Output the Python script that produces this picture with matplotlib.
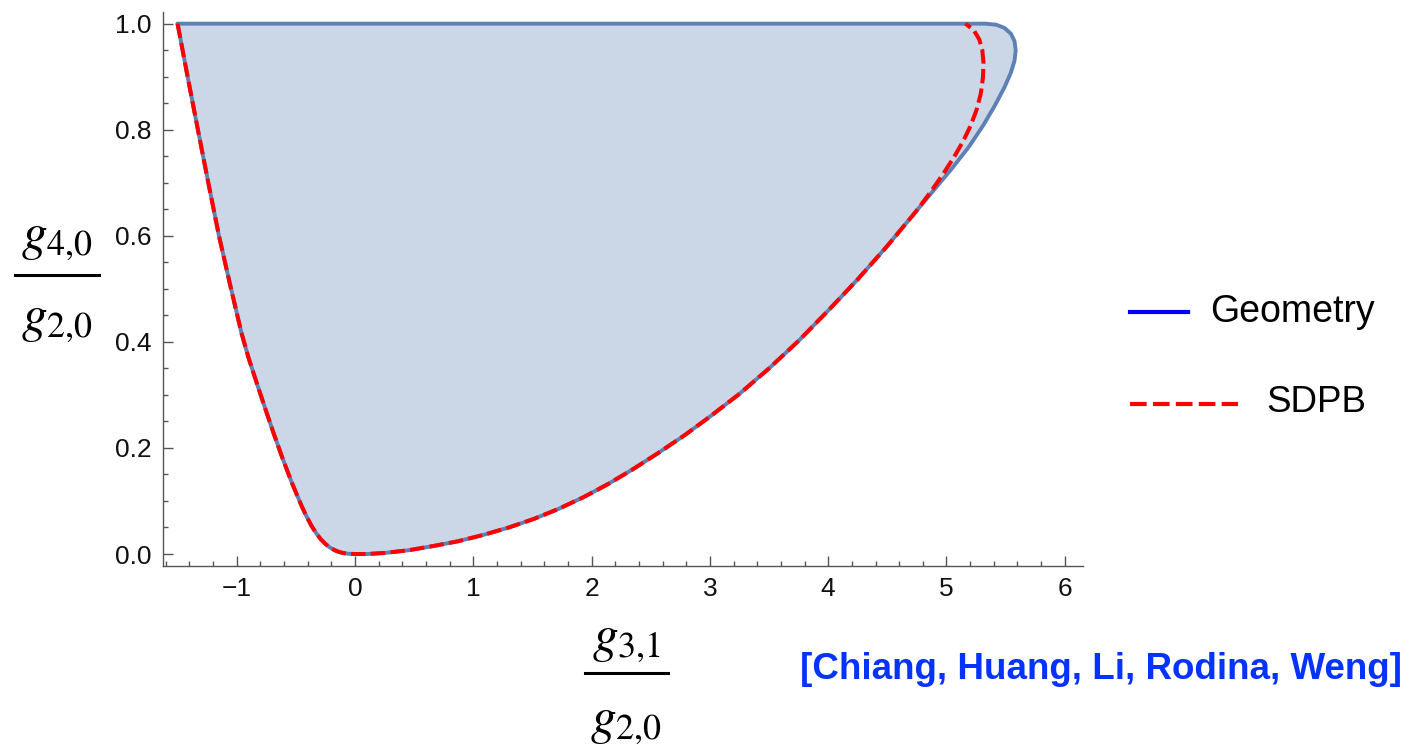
import matplotlib.pyplot as plt
from matplotlib.lines import Line2D
from matplotlib.ticker import MultipleLocator

W, H = 1411, 745

# boundary shared by both curves: from the top-left corner down to the
# bottom and up the right-hand side
lower_x = [-1.50, -1.415, -1.328, -1.24, -1.15, -1.058, -0.96, -0.90, -0.83,
           -0.76, -0.69, -0.615, -0.535, -0.45, -0.41, -0.37, -0.33, -0.29,
           -0.25, -0.21, -0.17, -0.13, -0.09, -0.05, 0.00,
           0.10, 0.25, 0.45, 0.66, 0.87, 1.085, 1.30, 1.51, 1.72, 1.93,
           2.14, 2.35, 2.56, 2.78, 3.00, 3.25, 3.50, 3.75, 4.00, 4.25, 4.50,
           4.75]
lower_y = [1.000, 0.900, 0.800, 0.700, 0.600, 0.510, 0.417, 0.370, 0.322,
           0.275, 0.229, 0.182, 0.135, 0.090, 0.071, 0.054, 0.040, 0.028,
           0.019, 0.012, 0.007, 0.0035, 0.0015, 0.0004, 0.000,
           0.000, 0.002, 0.007, 0.015, 0.024, 0.036, 0.050, 0.066, 0.085, 0.107,
           0.132, 0.160, 0.190, 0.223, 0.259, 0.302, 0.350, 0.402, 0.459, 0.518,
           0.581, 0.648]

# upper right end of the geometry region
geom_cap_x = [4.90, 5.05, 5.19, 5.31, 5.41, 5.49, 5.545, 5.575, 5.585, 5.575,
              5.545, 5.49, 5.42, 5.33]
geom_cap_y = [0.688, 0.728, 0.768, 0.808, 0.846, 0.880, 0.908, 0.930, 0.950,
              0.967, 0.981, 0.992, 0.998, 1.000]

# upper right end of the SDPB bound
sdpb_cap_x = [4.87, 4.97, 5.06, 5.14, 5.205, 5.255, 5.29, 5.308, 5.313, 5.303,
              5.278, 5.23, 5.16]
sdpb_cap_y = [0.684, 0.716, 0.747, 0.778, 0.808, 0.838, 0.868, 0.898, 0.925,
              0.950, 0.970, 0.988, 1.000]

x_ticks = [-1, 0, 1, 2, 3, 4, 5, 6]
x_tick_labels = ["\u22121", "0", "1", "2", "3", "4", "5", "6"]
y_ticks = [0.0, 0.2, 0.4, 0.6, 0.8, 1.0]
y_tick_labels = ["0.0", "0.2", "0.4", "0.6", "0.8", "1.0"]

legend_labels = ["Geometry", "SDPB"]
citation = "[Chiang, Huang, Li, Rodina, Weng]"

plt.rcParams["font.family"] = "Liberation Sans"
plt.rcParams["mathtext.fontset"] = "stix"

fig = plt.figure(figsize=(W / 100, H / 100), dpi=100)


def fx(px):
    return px / W


def fy(py):
    return 1 - py / H


ax = fig.add_axes([fx(163), fy(566), (1083 - 163) / W, (566 - 12) / H])

geom_x = lower_x + geom_cap_x + [lower_x[0]]
geom_y = lower_y + geom_cap_y + [lower_y[0]]
ax.fill(geom_x, geom_y, color="#5E81B5", alpha=0.32, lw=0)
ax.plot(geom_x, geom_y, color="#5E81B5", lw=2.8, solid_joinstyle="round",
        solid_capstyle="round", clip_on=False)
ax.plot(lower_x + sdpb_cap_x, lower_y + sdpb_cap_y, color="#FF0000", lw=2.9,
        dashes=(3.6, 1.3), clip_on=False)

ax.set_xlim(-1.623, 6.154)
ax.set_ylim(-0.0226, 1.022)
ax.set_xticks(x_ticks)
ax.set_xticklabels(x_tick_labels)
ax.set_yticks(y_ticks)
ax.set_yticklabels(y_tick_labels)
ax.xaxis.set_minor_locator(MultipleLocator(0.2))
ax.yaxis.set_minor_locator(MultipleLocator(0.05))
ax.tick_params(which="both", direction="in", color="#555555", width=1.0,
               labelsize=19, labelcolor="#111111")
ax.tick_params(which="major", length=7)
ax.tick_params(which="minor", length=3.5)
ax.tick_params(axis="x", pad=8)
ax.tick_params(axis="y", pad=8.5)
for side in ("top", "right"):
    ax.spines[side].set_visible(False)
for side in ("left", "bottom"):
    ax.spines[side].set_color("#555555")
    ax.spines[side].set_linewidth(1.0)
ax.patch.set_alpha(0)

# fraction labels
lab_size = 37
fig.text(fx(57), fy(249), r"$g_{4{,}0}$", fontsize=lab_size, ha="center", va="baseline")
fig.add_artist(Line2D([fx(15), fx(99)], [fy(275), fy(275)], color="black", lw=2.2))
fig.text(fx(57), fy(331), r"$g_{2{,}0}$", fontsize=lab_size, ha="center", va="baseline")

fig.text(fx(626), fy(651), r"$g_{3{,}1}$", fontsize=lab_size, ha="center", va="baseline")
fig.add_artist(Line2D([fx(585), fx(668)], [fy(673), fy(673)], color="black", lw=2.2))
fig.text(fx(626), fy(733), r"$g_{2{,}0}$", fontsize=lab_size, ha="center", va="baseline")

# legend drawn by hand
fig.add_artist(Line2D([fx(1130), fx(1188)], [fy(312), fy(312)], color="#0000FF", lw=3))
fig.text(fx(1210), fy(322), legend_labels[0], fontsize=27, va="baseline")
fig.add_artist(Line2D([fx(1130), fx(1238)], [fy(404), fy(404)], color="#FF0000", lw=3,
                      dashes=(4.0, 1.5)))
fig.text(fx(1266), fy(412), legend_labels[1], fontsize=26.5, va="baseline")

fig.text(fx(800), fy(679), citation, fontsize=26.5, fontweight="bold",
         color="#0433FF", va="baseline")

fig.savefig("out.png", dpi=100)
